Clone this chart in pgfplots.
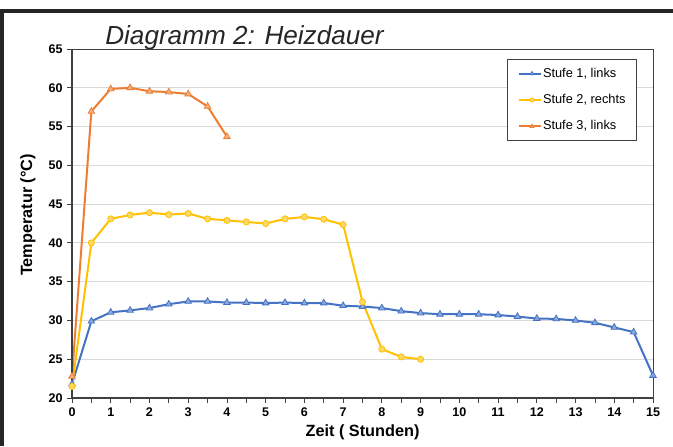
\documentclass[border=0pt]{standalone}
\usepackage{fontspec}
\setmainfont{Liberation Sans}
\usepackage{pgfplots}
\pgfplotsset{compat=1.18}
\definecolor{s1}{HTML}{4472C4}
\definecolor{s1f}{HTML}{8EA9DB}
\definecolor{s2}{HTML}{FFC000}
\definecolor{s2f}{HTML}{FFD966}
\definecolor{s3}{HTML}{ED7D31}
\definecolor{s3f}{HTML}{F4B183}
\definecolor{frame}{HTML}{262626}
\definecolor{axl}{HTML}{404040}
\begin{document}
\begin{tikzpicture}
\useasboundingbox (0,0) rectangle (673*0.75pt,-446*0.75pt);
% outer frame
\fill[frame] (0,-9*0.75pt) rectangle (673*0.75pt,-13*0.75pt);
\fill[frame] (0,-9*0.75pt) rectangle (4*0.75pt,-446*0.75pt);
\node[anchor=base,font=\itshape\fontsize{19.6}{21}\selectfont,text=black!85] at (244.5*0.75pt,-44*0.75pt) {Diagramm 2: Heizdauer};
\begin{axis}[
  at={(72*0.75pt,-398*0.75pt)}, anchor=south west,
  scale only axis, width=435.75pt, height=261.75pt,
  xmin=0, xmax=15, ymin=20, ymax=65,
  xtick={0,...,15}, minor xtick={0.5,1.5,...,14.5},
  ytick={20,25,...,65},
  tick pos=left, tick align=outside,
  major tick length=3.5pt, minor tick length=3.5pt,
  tick style={axl, line width=0.6pt},
  axis line style={axl, line width=0.6pt},
  ymajorgrids, grid style={gray!30, line width=0.75pt},
  /pgf/number format/assume math mode=true,
  ticklabel style={font=\bfseries\fontsize{9.4}{10}\selectfont},
  xlabel={Zeit ( Stunden)}, ylabel={Temperatur (°C)},
  label style={font=\bfseries\fontsize{12.2}{13}\selectfont},
  xlabel style={at={(0.5,0)}, anchor=base, yshift=-38*0.75pt},
  ylabel style={at={(0,0.5)}, anchor=base, yshift=40*0.75pt, xshift=8.5*0.75pt},
  clip=false,
  legend cell align=left,
  legend style={at={(0.7487,0.9713)}, anchor=north west,
    draw=axl, line width=0.5pt, inner xsep=7.7pt, inner ysep=4.5pt, row sep=7.3pt,
    nodes={inner xsep=0.5pt},
    font=\fontsize{9.6}{10}\selectfont},
  legend image code/.code={\path (0cm,0cm) -- (0.1cm,0cm); \draw[mark repeat=2,mark phase=2,#1] plot coordinates {(0.1cm,0cm) (0.35cm,0cm) (0.6cm,0cm)};},
  legend image post style={mark size=1.6pt},
  every axis plot/.append style={line width=1.5pt},
]
\addplot[s1, mark=triangle*, mark size=2.8pt, mark options={fill=s1f, draw=s1, line width=0.6pt}] coordinates {
(0,21.8)(0.5,29.9)(1,31.05)(1.5,31.3)(2,31.6)(2.5,32.1)(3,32.45)(3.5,32.45)(4,32.3)(4.5,32.3)(5,32.25)(5.5,32.3)(6,32.25)(6.5,32.25)(7,31.9)(7.5,31.8)(8,31.6)(8.5,31.2)(9,30.95)(9.5,30.8)(10,30.8)(10.5,30.8)(11,30.7)(11.5,30.5)(12,30.25)(12.5,30.2)(13,30.0)(13.5,29.7)(14,29.1)(14.5,28.5)(15,22.9)};
\addlegendentry{Stufe 1, links}
\addplot[s2, mark=*, mark size=2.3pt, mark options={fill=s2f, draw=s2, line width=0.6pt}] coordinates {
(0,21.5)(0.5,40.0)(1,43.1)(1.5,43.6)(2,43.9)(2.5,43.65)(3,43.8)(3.5,43.1)(4,42.9)(4.5,42.7)(5,42.5)(5.5,43.1)(6,43.35)(6.5,43.05)(7,42.35)(7.5,32.4)(8,26.3)(8.5,25.3)(9,25.0)};
\addlegendentry{Stufe 2, rechts}
\addplot[s3, mark=triangle*, mark size=2.8pt, mark options={fill=s3f, draw=s3, line width=0.6pt}] coordinates {
(0,22.8)(0.5,56.95)(1,59.85)(1.5,60.0)(2,59.55)(2.5,59.45)(3,59.2)(3.5,57.6)(4,53.7)};
\addlegendentry{Stufe 3, links}
\draw[axl, line width=1.5pt] (rel axis cs:0,1) -- (rel axis cs:0,0) -- (rel axis cs:1,0);
\end{axis}
\end{tikzpicture}
\end{document}
